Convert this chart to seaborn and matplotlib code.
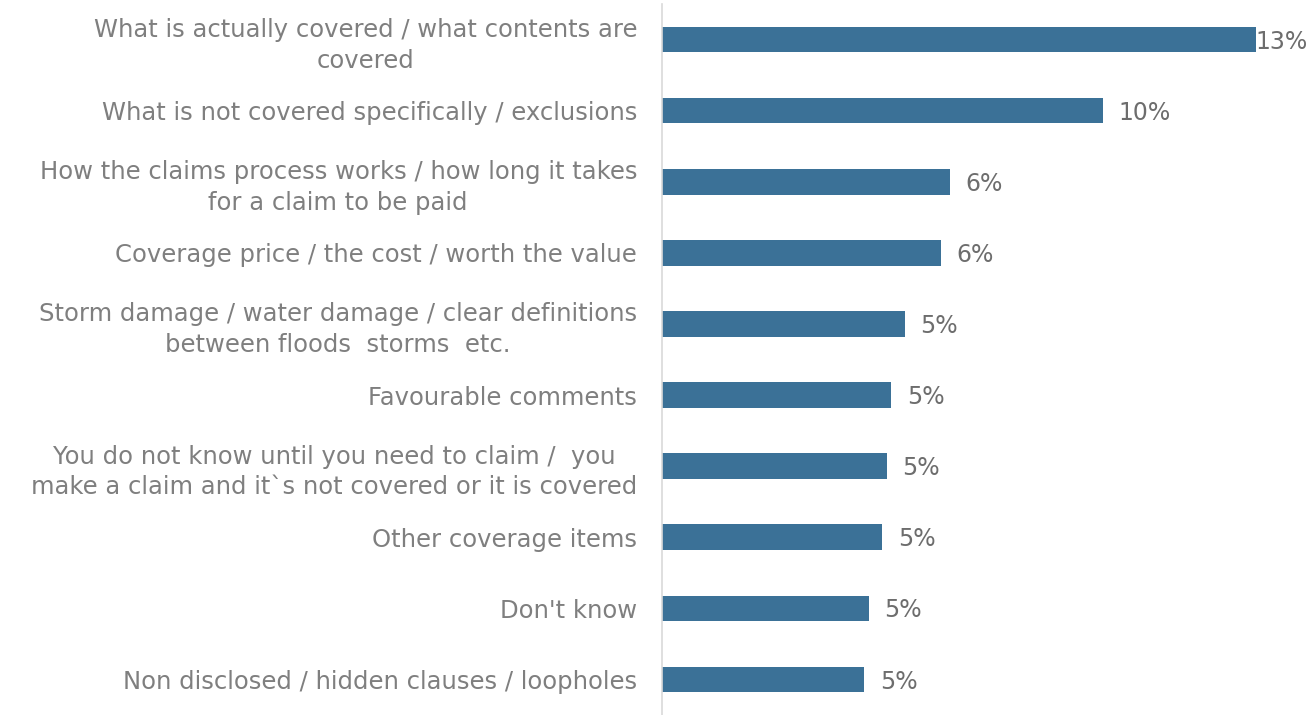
import matplotlib
matplotlib.use("Agg")
import matplotlib.pyplot as plt
import seaborn as sns
import pandas as pd

categories = [
    "What is actually covered / what contents are\ncovered",
    "What is not covered specifically / exclusions",
    "How the claims process works / how long it takes\nfor a claim to be paid",
    "Coverage price / the cost / worth the value",
    "Storm damage / water damage / clear definitions\nbetween floods  storms  etc.",
    "Favourable comments",
    "You do not know until you need to claim /  you\nmake a claim and it`s not covered or it is covered",
    "Other coverage items",
    "Don't know",
    "Non disclosed / hidden clauses / loopholes",
]
values = [13.2, 9.8, 6.4, 6.2, 5.4, 5.1, 5.0, 4.9, 4.6, 4.5]
value_labels = ["13%", "10%", "6%", "6%", "5%", "5%", "5%", "5%", "5%", "5%"]

df = pd.DataFrame({"item": categories, "share": values})

sns.set_style("white")
plt.rcParams["font.family"] = ["DejaVu Sans"]

bar_color = "#3b7197"
text_color = "#7f7f7f"

fig = plt.figure(figsize=(13.13, 7.15), dpi=100)
ax = fig.add_axes([662 / 1313, 0.0, 651 / 1313, 711 / 715])

sns.barplot(data=df, y="item", x="share", orient="h", color=bar_color,
            width=0.36, saturation=1, linewidth=0, ax=ax)

ax.set_xlim(0, 14.47)
ax.set_xlabel("")
ax.set_ylabel("")
ax.set_xticks([])
ax.tick_params(axis="y", length=0, pad=18, labelsize=17.5, labelcolor=text_color)
for lbl in ax.get_yticklabels():
    lbl.set_horizontalalignment("right")
    lbl.set_multialignment("center")
    lbl.set_linespacing(1.35)

for side in ["top", "right", "bottom"]:
    ax.spines[side].set_visible(False)
ax.spines["left"].set_color("#d9d9d9")
ax.spines["left"].set_linewidth(1.2)

for i, (v, t) in enumerate(zip(values, value_labels)):
    pad = 0 if i == 0 else 11
    ax.annotate(t, xy=(v, i), xytext=(pad, -1.5), textcoords="offset points",
                va="center", ha="left", fontsize=17, color="#6d6d6d",
                annotation_clip=False)

fig.savefig("out.png", dpi=100)
